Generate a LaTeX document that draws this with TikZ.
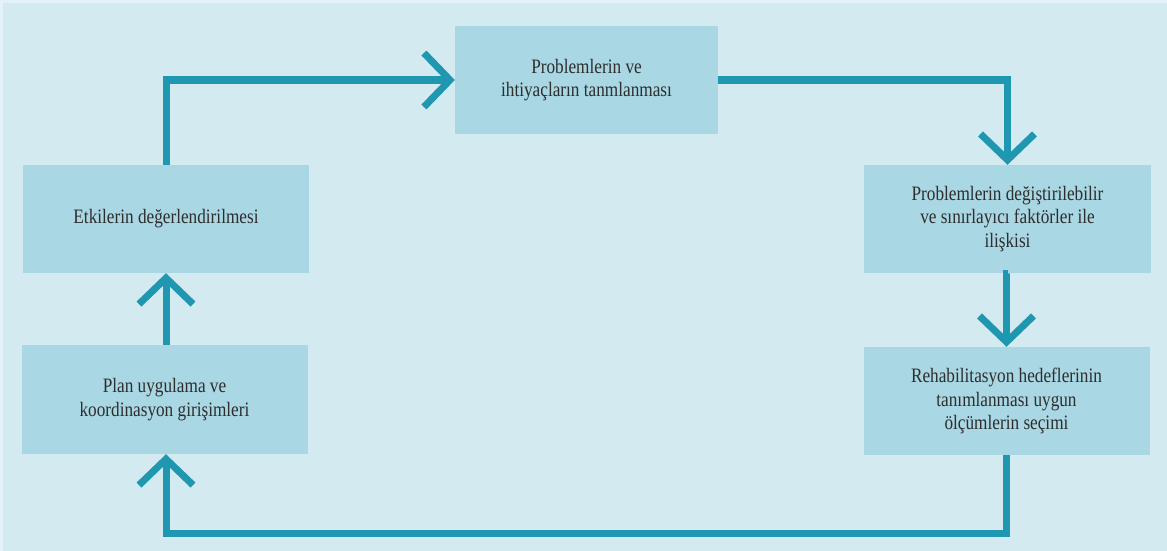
\documentclass[tikz,border=0pt]{standalone}
\usepackage{fontspec}
\setmainfont{Liberation Serif}[FakeStretch=0.84]
\usetikzlibrary{arrows.meta}
\definecolor{outerbg}{HTML}{E2F2F8}
\definecolor{innerbg}{HTML}{D4EAF1}
\definecolor{boxfill}{HTML}{A9D7E3}
\definecolor{arrowc}{HTML}{1F97B0}
\definecolor{txtc}{HTML}{2E2E2E}
\tikzset{
  stepbox/.style={fill=boxfill, draw=none, inner sep=0pt, align=center,
    text=txtc, font=\fontsize{20.5}{23.5}\selectfont},
  flow/.style={draw=arrowc, line width=7pt, line join=miter,
    -{Straight Barb[length=26pt,width=54pt,line width=7pt]}},
}
\begin{document}
\begin{tikzpicture}[x=1pt,y=-1pt]
\useasboundingbox (0,0) rectangle (1167,551);
\fill[outerbg] (0,0) rectangle (1167,551);
\fill[innerbg] (3,3) rectangle (1167,551);
% boxes
\node[stepbox, minimum width=263pt, minimum height=108pt] (t) at (586.5,80) {Problemlerin ve\\ihtiyaçların tanmlanması};
\node[stepbox, minimum width=287pt, minimum height=108pt] (r1) at (1007.5,219) {Problemlerin değiştirilebilir\\ve sınırlayıcı faktörler ile\\ilişkisi};
\node[stepbox, minimum width=286pt, minimum height=108pt] (r2) at (1006.5,401) {Rehabilitasyon hedeflerinin\\tanımlanması uygun\\ölçümlerin seçimi};
\node[stepbox, minimum width=286pt, minimum height=108pt] (e) at (166,219) {Etkilerin değerlendirilmesi};
\node[stepbox, minimum width=286pt, minimum height=109pt] (p) at (164.5,399.5) {Plan uygulama ve\\koordinasyon girişimleri};
% connectors
\draw[flow] (e.north) |- (t.west);
\draw[flow] (t.east) -| (r1.north);
\draw[flow] (r1.south) -- (r2.south |- r1.south) -- (r2.north);
\coordinate (bl) at (166,533);
\draw[flow] (r2.south) |- (bl) -- ([xshift=1.5pt]p.south);
\draw[flow] ([xshift=1.5pt]p.north) -- (e.south);
\end{tikzpicture}
\end{document}
